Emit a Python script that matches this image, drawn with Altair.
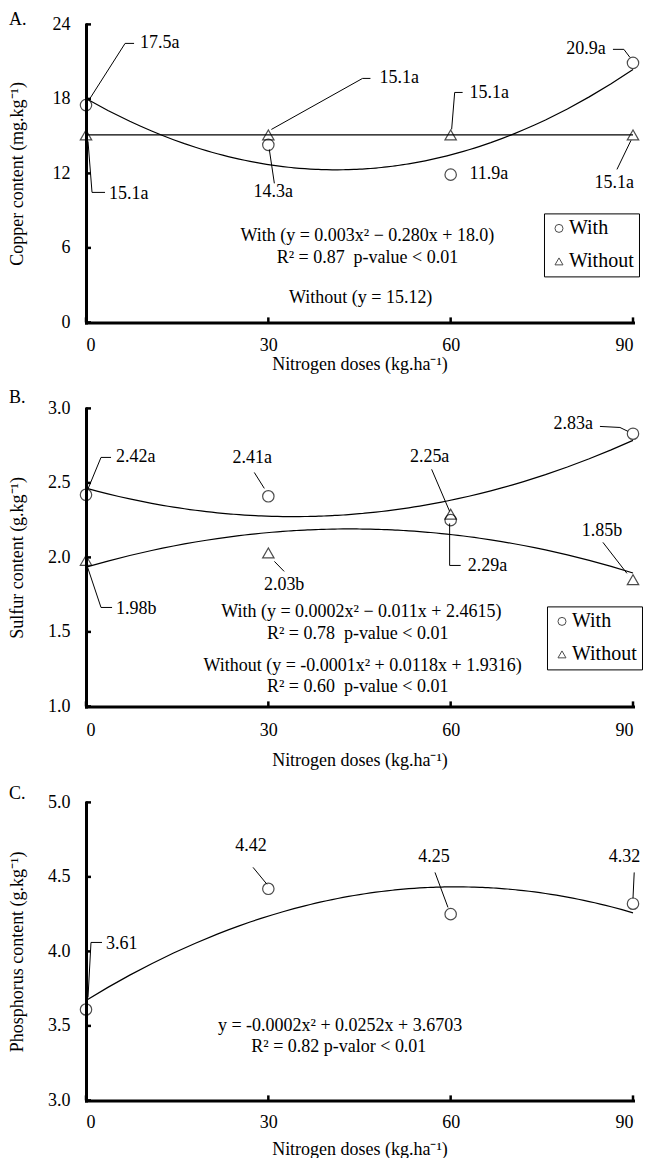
import altair as alt
import pandas as pd

FONT = "Liberation Serif"
FS = 18
DOSES = [0, 30, 60, 90]
SERIES = ["With", "Without"]
XTITLE = "Nitrogen doses (kg.ha\u207b\u00b9)"

# ---------------- Panel A: copper ----------------
A_WITH = [17.5, 14.3, 11.9, 20.9]
A_WITHOUT = [15.1, 15.1, 15.1, 15.1]
A_YTICKS = [0, 6, 12, 18, 24]
A_LABELS = ["17.5a", "15.1a", "14.3a", "15.1a", "15.1a", "11.9a", "20.9a", "15.1a"]
A_LABEL_X = [8.9, 3.8, 30.8, 48.3, 63.1, 63.1, 85.5, 86.9]
A_LABEL_Y = [22.47, 10.31, 10.47, 19.65, 18.44, 11.92, 21.99, 11.2]
A_LABEL_ALIGN = ["left", "left", "center", "left", "left", "left", "right", "center"]
A_LEADERS = [
    [(0.66, 18.04), (6.43, 22.47), (7.91, 22.47)],
    [(0.33, 14.58), (0.99, 10.47), (3.13, 10.47)],
    [(30.16, 13.93), (30.99, 11.2)],
    [(30.5, 15.54), (45.5, 19.65), (46.8, 19.65)],
    [(60.16, 15.54), (60.66, 18.52), (61.97, 18.52)],
    [],
    [(86.7, 21.99), (88.5, 21.99), (89.5, 21.34)],
    [(89.67, 14.66), (87.36, 12.32)],
]
A_EQ = ["With (y = 0.003x\u00b2 \u2212 0.280x + 18.0)",
        "R\u00b2 = 0.87\u00a0 p-value < 0.01",
        "Without (y = 15.12)"]
A_EQ_X = [46.3, 46.3, 45.2]
A_EQ_Y = [6.93, 5.15, 1.93]

# ---------------- Panel B: sulfur ----------------
B_WITH = [2.42, 2.41, 2.25, 2.83]
B_WITHOUT = [1.98, 2.03, 2.29, 1.85]
B_YTICKS = [1.0, 1.5, 2.0, 2.5, 3.0]
B_LABELS = ["2.42a", "2.41a", "2.25a", "2.29a", "2.83a", "1.85b", "2.03b", "1.98b"]
B_LABEL_X = [4.94, 27.36, 56.54, 62.8, 83.4, 84.9, 32.6, 4.94]
B_LABEL_Y = [2.671, 2.664, 2.671, 1.94, 2.893, 2.174, 1.812, 1.651]
B_LABEL_ALIGN = ["left", "center", "center", "left", "right", "center", "center", "left"]
B_LEADERS = [
    [(0.16, 2.443), (2.47, 2.671), (4.12, 2.671)],
    [(27.69, 2.570), (29.34, 2.463)],
    [(56.87, 2.591), (59.83, 2.309)],
    [(59.83, 2.228), (59.83, 1.946), (61.65, 1.946)],
    [(84.56, 2.879), (87.85, 2.872), (89.17, 2.846)],
    [(85.05, 2.101), (89.0, 1.893)],
    [(31.0, 1.973), (32.6, 1.906)],
    [(0.16, 1.946), (2.47, 1.664), (4.29, 1.664)],
]
B_EQ = ["With (y = 0.0002x\u00b2 \u2212 0.011x + 2.4615)",
        "R\u00b2 = 0.78\u00a0 p-value < 0.01",
        "Without (y = -0.0001x\u00b2 + 0.0118x + 1.9316)",
        "R\u00b2 = 0.60\u00a0 p-value < 0.01"]
B_EQ_X = [45.3, 44.7, 45.5, 44.7]
B_EQ_Y = [1.631, 1.483, 1.268, 1.128]

# ---------------- Panel C: phosphorus ----------------
C_WITH = [3.61, 4.42, 4.25, 4.32]
C_YTICKS = [3.0, 3.5, 4.0, 4.5, 5.0]
C_LABELS = ["3.61", "4.42", "4.25", "4.32"]
C_LABEL_X = [3.29, 27.15, 57.25, 88.6]
C_LABEL_Y = [4.047, 4.705, 4.631, 4.631]
C_LABEL_ALIGN = ["left", "center", "center", "center"]
C_LEADERS = [
    [(0.33, 3.691), (0.82, 4.060), (2.63, 4.060)],
    [(27.48, 4.564), (29.78, 4.450)],
    [(57.42, 4.530), (59.56, 4.295)],
    [(90.2, 4.530), (90.0, 4.356)],
]
C_EQ = ["y = -0.0002x\u00b2 + 0.0252x + 3.6703",
        "R\u00b2 = 0.82 p-valor < 0.01"]
C_EQ_X = [41.8, 41.6]
C_EQ_Y = [3.50, 3.36]

W, H = 547, 298


def panel(letter, letter_y, with_vals, without_vals, ydom, yticks, yfmt, ytitle,
          labels, lx, ly, lalign, leaders, eq, eqx, eqy,
          legend_xy, xlab_pad, xtitle_y):
    X = alt.X("x:Q", scale=alt.Scale(domain=[0, 90], nice=False, zero=False),
              axis=alt.Axis(values=DOSES, format="d", title=XTITLE,
                            labelPadding=xlab_pad, titleY=xtitle_y,
                            titleBaseline="middle"))
    Y = alt.Y("y:Q", scale=alt.Scale(domain=ydom, nice=False, zero=False),
              axis=alt.Axis(values=yticks, format=yfmt, title=ytitle,
                            labelPadding=16, titleX=-69, titleY=H / 2,
                            titleAngle=270, titleBaseline="middle",
                            titleAlign="center"))

    rows = [{"x": d, "y": v, "series": "With"} for d, v in zip(DOSES, with_vals)]
    if without_vals is not None:
        rows += [{"x": d, "y": v, "series": "Without"} for d, v in zip(DOSES, without_vals)]
    pts = pd.DataFrame(rows)

    xt = pd.DataFrame({"x": DOSES, "y": [ydom[0]] * len(DOSES)})
    yt = pd.DataFrame({"y": yticks, "x": [0] * len(yticks)})
    xticks = alt.Chart(xt).mark_rule(color="black", strokeWidth=2.5, y2Offset=-5).encode(
        x=X, y=Y, y2=alt.Y2("y"))
    yticks_l = alt.Chart(yt).mark_rule(color="black", strokeWidth=2.5, x2Offset=5).encode(
        x=X, x2=alt.X2("x"), y=Y)

    fit = alt.Chart(pts).transform_regression(
        "x", "y", method="poly", order=2, groupby=["series"], extent=[0, 90]
    ).mark_line(color="black", strokeWidth=1.2).encode(x=X, y=Y, detail="series:N")

    if legend_xy is not None:
        shape = alt.Shape("series:N",
                          scale=alt.Scale(domain=SERIES, range=["circle", "triangle-up"]),
                          legend=alt.Legend(orient="none", legendX=legend_xy[0],
                                            legendY=legend_xy[1], title=None,
                                            strokeColor="black", fillColor="white",
                                            padding=5, rowPadding=13,
                                            labelFont=FONT, labelFontSize=20,
                                            labelColor="black", labelOffset=0,
                                            symbolOffset=0,
                                            symbolSize=64, symbolStrokeWidth=1,
                                            symbolStrokeColor="black"))
        points = alt.Chart(pts).mark_point(filled=False, color="black", size=130,
                                           strokeWidth=1.2).encode(x=X, y=Y, shape=shape)
    else:
        points = alt.Chart(pts).mark_point(filled=False, color="black", size=130,
                                           strokeWidth=1.2, shape="circle").encode(x=X, y=Y)

    lrows = []
    for i, path in enumerate(leaders):
        for j, (px, py) in enumerate(path):
            lrows.append({"id": i, "ord": j, "x": px, "y": py})
    lead = alt.Chart(pd.DataFrame(lrows)).mark_line(color="black", strokeWidth=1).encode(
        x=X, y=Y, detail="id:N", order="ord:Q")

    ldf = pd.DataFrame({"x": lx, "y": ly, "t": labels, "al": lalign})
    texts = []
    for al in ["left", "center", "right"]:
        sub = ldf[ldf["al"] == al]
        if len(sub):
            texts.append(alt.Chart(sub).mark_text(font=FONT, fontSize=FS, color="black",
                                                  align=al, baseline="middle").encode(
                x=X, y=Y, text="t:N"))

    edf = pd.DataFrame({"x": eqx, "y": eqy, "t": eq})
    eqs = alt.Chart(edf).mark_text(font=FONT, fontSize=FS, color="black",
                                   align="center", baseline="middle").encode(
        x=X, y=Y, text="t:N")

    tag = alt.Chart(pd.DataFrame({"t": [letter]})).mark_text(
        font=FONT, fontSize=FS, color="black", align="left", baseline="middle"
    ).encode(x=alt.value(-77), y=alt.value(letter_y), text="t:N")

    layers = [xticks, yticks_l, fit, lead, points, eqs, tag] + texts
    return alt.layer(*layers).properties(width=W, height=H)


pa = panel("A.", -4, A_WITH, A_WITHOUT, [0, 24], A_YTICKS, "d",
           "Copper content (mg.kg\u207b\u00b9)",
           A_LABELS, A_LABEL_X, A_LABEL_Y, A_LABEL_ALIGN, A_LEADERS,
           A_EQ, A_EQ_X, A_EQ_Y, (458, 189), 14, 42)
pb = panel("B.", -10, B_WITH, B_WITHOUT, [1.0, 3.0], B_YTICKS, ".1f",
           "Sulfur content (g.kg\u207b\u00b9)",
           B_LABELS, B_LABEL_X, B_LABEL_Y, B_LABEL_ALIGN, B_LEADERS,
           B_EQ, B_EQ_X, B_EQ_Y, (461, 198), 15, 54)
pc = panel("C.", -8, C_WITH, None, [3.0, 5.0], C_YTICKS, ".1f",
           "Phosphorus content (g.kg\u207b\u00b9)",
           C_LABELS, C_LABEL_X, C_LABEL_Y, C_LABEL_ALIGN, C_LEADERS,
           C_EQ, C_EQ_X, C_EQ_Y, None, 13, 49)

chart = alt.vconcat(pa, pb, pc, spacing=16).resolve_scale(
    x="independent", y="independent", shape="independent"
).resolve_legend(shape="independent").resolve_axis(
    x="independent", y="independent"
).configure_axis(
    labelFont=FONT, labelFontSize=FS, titleFont=FONT, titleFontSize=FS,
    titleFontWeight="normal", labelColor="black", titleColor="black",
    domainColor="black", domainWidth=3, domainCap="square", ticks=False,
    tickSize=0, grid=False
).configure_view(stroke=None).properties(
    padding={"left": 0, "top": 3.4, "right": 0, "bottom": 0}
)

chart.save("out.html", embed_options={"renderer": "svg", "actions": False})
